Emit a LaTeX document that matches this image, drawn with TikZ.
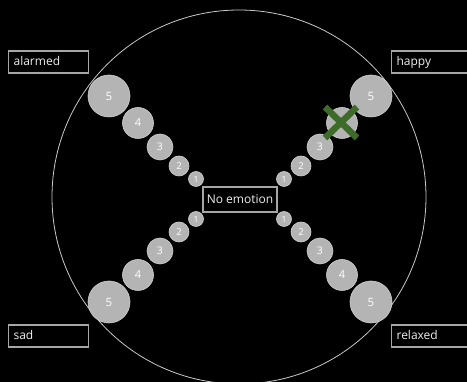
\documentclass[tikz,border=0pt]{standalone}
\usepackage{fontspec}
\setmainfont{Open Sans}
\definecolor{bubble}{HTML}{B4B4B4}
\definecolor{bubbleline}{HTML}{D0D0D0}
\definecolor{ringc}{HTML}{C8C8C8}
\definecolor{boxline}{HTML}{A6A6A6}
\definecolor{txt}{HTML}{EEEEEE}
\definecolor{xgreen}{HTML}{3F6B2A}
\begin{document}
\begin{tikzpicture}[x=1pt,y=-1pt,
  labelbox/.style={draw=boxline,line width=1.2pt,text=txt,anchor=west,inner xsep=5pt,minimum height=22pt,text height=8.5pt,text depth=2pt,font=\fontsize{12}{13}\selectfont,align=left},
  bub/.style={circle,fill=bubble,draw=bubbleline,line width=0.6pt,inner sep=0pt,text=white},
  b5/.style={bub,minimum size=42pt,font=\fontsize{11.5}{12}\selectfont},
  b4/.style={bub,minimum size=31pt,font=\fontsize{11}{12}\selectfont},
  b3/.style={bub,minimum size=26pt,font=\fontsize{10.5}{11}\selectfont},
  b2/.style={bub,minimum size=20pt,font=\fontsize{9.5}{10}\selectfont},
  b1/.style={bub,minimum size=15pt,font=\fontsize{8.5}{9}\selectfont},
  cross/.style={draw=xgreen,line width=6.5pt}]
\useasboundingbox[fill=black] (0,0) rectangle (467,382);
\begin{scope}
\clip (0,0) rectangle (467,382);
\node[circle,draw=ringc,line width=0.8pt,minimum size=374pt,inner sep=0pt] (ring) at (239,197) {};
% top-left
\node[b5] (tl5) at (109,96) {5};
\node[b4] (tl4) at (138,123) {4};
\node[b3] (tl3) at (160,147) {3};
\node[b2] (tl2) at (179,166) {2};
\node[b1] (tl1) at (196,179) {1};
% top-right
\node[b5] (tr5) at (371,96) {5};
\node[b4] (tr4) at (342,123) {};
\node[b3] (tr3) at (320,147) {3};
\node[b2] (tr2) at (301,166) {2};
\node[b1] (tr1) at (284,179) {1};
% bottom-left
\node[b5] (bl5) at (109,302) {5};
\node[b4] (bl4) at (138,275) {4};
\node[b3] (bl3) at (160,251) {3};
\node[b2] (bl2) at (179,232) {2};
\node[b1] (bl1) at (196,219) {1};
% bottom-right
\node[b5] (br5) at (371,302) {5};
\node[b4] (br4) at (342,275) {4};
\node[b3] (br3) at (320,251) {3};
\node[b2] (br2) at (301,232) {2};
\node[b1] (br1) at (284,219) {1};
% cross
\coordinate (xa) at (325,107);
\coordinate (xb) at (357,138);
\coordinate (xc) at (357,107);
\coordinate (xd) at (325,138);
\draw[cross] (xa) -- (xb);
\draw[cross] (xc) -- (xd);
% centre
\node[draw=boxline,line width=1.2pt,fill=black,text=txt,minimum width=74pt,minimum height=25pt,inner sep=2pt,font=\fontsize{12}{13}\selectfont] (none) at (240,199.5) {No emotion};
% labels
\node[labelbox,text width=70pt] (alarmed) at (8,62) {alarmed};
\node[labelbox,text width=72pt] (happy) at (391,62) {happy};
\node[labelbox,text width=70pt] (sad) at (8,336) {sad};
\node[labelbox,text width=72pt] (relaxed) at (391,336) {relaxed};
\end{scope}
\end{tikzpicture}
\end{document}
